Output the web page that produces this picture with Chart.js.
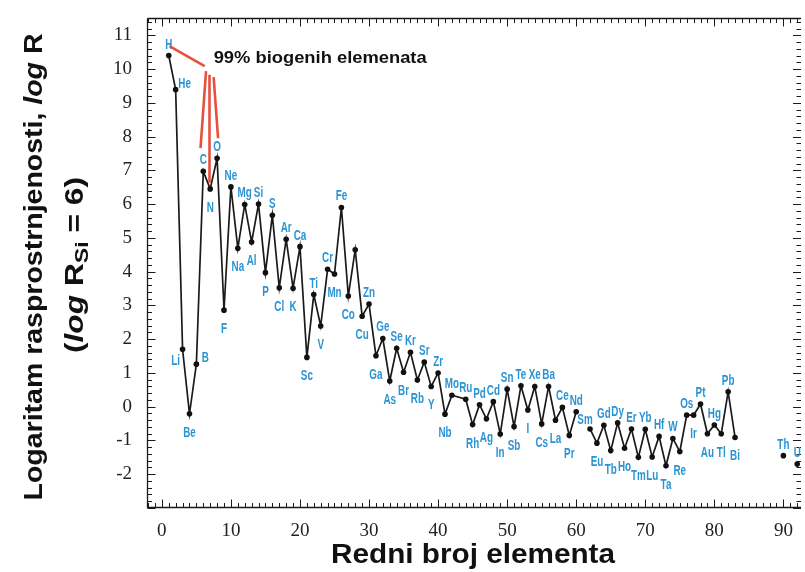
<!DOCTYPE html>
<html><head><meta charset="utf-8">
<script src="https://cdn.jsdelivr.net/npm/chart.js@4.4.1/dist/chart.umd.min.js"></script>
<style>html,body{margin:0;padding:0;background:#fff;overflow:hidden}#wrap{width:805px;height:572px;position:relative}</style>
</head><body><div id="wrap"><canvas id="c"></canvas></div>
<script>
// ---- data ----
const atomicNumbers = [1,2,3,4,5,6,7,8,9,10,11,12,13,14,15,16,17,18,19,20,21,22,23,24,25,26,27,28,29,30,31,32,33,34,35,36,37,38,39,40,41,42,
  44,45,46,47,48,49,50,51,52,53,54,55,56,57,58,59,60,61,62,63,64,65,66,67,68,69,70,71,72,73,74,75,76,77,78,79,80,81,82,83,
  84,90,91,92];
const symbols = ['H','He','Li','Be','B','C','N','O','F','Ne','Na','Mg','Al','Si','P','S','Cl','Ar','K','Ca','Sc','Ti','V','Cr','Mn','Fe','Co','Ni','Cu','Zn','Ga','Ge','As','Se','Br','Kr','Rb','Sr','Y','Zr','Nb','Mo',
  'Ru','Rh','Pd','Ag','Cd','In','Sn','Sb','Te','I','Xe','Cs','Ba','La','Ce','Pr','Nd','Pm','Sm','Eu','Gd','Tb','Dy','Ho','Er','Tm','Yb','Lu','Hf','Ta','W','Re','Os','Ir','Pt','Au','Hg','Tl','Pb','Bi',
  'Po','Th','Pa','U'];
const logAbundance = [10.40,9.39,1.70,-0.21,1.26,6.97,6.45,7.36,2.86,6.51,4.69,5.99,4.88,6.00,3.97,5.67,3.52,4.96,3.51,4.74,1.46,3.32,2.39,4.07,3.93,5.90,3.28,4.65,2.68,3.04,1.51,2.02,0.76,1.73,1.02,1.61,0.79,1.32,0.60,1.00,-0.22,0.34,
  0.22,-0.53,0.06,-0.36,0.15,-0.81,0.52,-0.59,0.62,-0.10,0.60,-0.51,0.60,-0.40,-0.02,-0.85,-0.15,null,-0.66,-1.08,-0.55,-1.30,-0.48,-1.23,-0.66,-1.50,-0.67,-1.49,-0.88,-1.75,-0.94,-1.33,-0.25,-0.25,0.08,-0.80,-0.54,-0.80,0.44,-0.91,
  null,-1.45,null,-1.70];
// label placement: a = above, b = below, ar = above right, bl = below left, al = above left, '' = none
const labelSide = [
  'a','ar','bl','b','ar','a','b','a','b','a',   // 1-10
  'b','a','b','a','b','a','b','a','b','a',      // 11-20
  'b','a','b','a','b','a','b','','b','a',       // 21-30
  'b','a','b','a','b','a','b','a','b','a',      // 31-40
  'b','a',                                      // 41-42
  'a','b','a','b','a','b','a','b','a','b',      // 44-53
  'a','b','a','b','a','b','a','','al','b',      // 54-63
  'a','b','a','b','a','b','a','b','a','b',      // 64-73
  'a','b','a','b','a','b','a','b','a','b',      // 74-83
  '','a','','a'];                               // 84,90,91,92
const xTickValues = [0,10,20,30,40,50,60,70,80,90];
const yTickValues = [-2,-1,0,1,2,3,4,5,6,7,8,9,10,11];
const annotationText = '99% biogenih elemenata';

// ---- styles ----
const sideOffset = {a:[0,-11], b:[0,19], ar:[9,-6], bl:[-7,12], al:[-5,-9]};
const SANS = '"Liberation Sans", Arial, Helvetica, sans-serif';
const LABEL_FONT = 'bold 14.5px "Liberation Sans", Arial, sans-serif';
const BLUE = '#2a94d3';
const RED = '#e4513f';

const points = atomicNumbers.map((z,i)=>({x:z, y:logAbundance[i]}));

const framePlugin = {
  id:'frame',
  beforeDatasetsDraw(chart){
    const {ctx, chartArea:a, scales:{x,y}} = chart;
    ctx.save();
    ctx.strokeStyle = '#1a1a1a';
    ctx.lineWidth = 1.3;
    const L = Math.round(a.left)+0.5, B = Math.round(a.bottom)-0.5, T = Math.round(a.top)+0.5, R = a.right;
    ctx.beginPath();
    ctx.moveTo(L,T); ctx.lineTo(L,B); ctx.lineTo(R,B);
    ctx.moveTo(L,T); ctx.lineTo(R,T);
    ctx.stroke();
    ctx.lineWidth = 1;
    ctx.beginPath();
    for(let v=Math.ceil(x.min); v<=x.max; v++){
      const px = Math.round(x.getPixelForValue(v))+0.5;
      const len = v%10===0 ? 8 : 4.5;
      ctx.moveTo(px,B); ctx.lineTo(px,B-len);
      ctx.moveTo(px,T); ctx.lineTo(px,T+len);
    }
    for(let k=Math.ceil(y.min*5); k<=Math.floor(y.max*5); k++){
      const py = Math.round(y.getPixelForValue(k/5))+0.5;
      const len = k%5===0 ? 8 : 4.5;
      ctx.moveTo(L,py); ctx.lineTo(L+len,py);
      ctx.moveTo(R,py); ctx.lineTo(R-len,py);
    }
    ctx.stroke();
    ctx.restore();
  }
};

// draw a run of mixed-style text centred at (cx,cy), optionally fitted to a length
function drawRuns(ctx, runs, cx, cy, angle, fitLen){
  ctx.save();
  ctx.translate(cx, cy);
  ctx.rotate(angle);
  let total = 0;
  runs.forEach(r=>{ctx.font=r.font; r.w=ctx.measureText(r.t).width; total+=r.w;});
  if(fitLen) ctx.scale(fitLen/total, 1);
  let xx = -total/2;
  ctx.textBaseline='middle'; ctx.textAlign='left';
  runs.forEach(r=>{ctx.font=r.font; ctx.fillText(r.t, xx, r.dy||0); xx+=r.w;});
  ctx.restore();
}

const labelPlugin = {
  id:'labels',
  afterDatasetsDraw(chart){
    const {ctx, scales:{x,y}} = chart;
    const meta = chart.getDatasetMeta(0);
    ctx.save();
    ctx.font = LABEL_FONT;
    ctx.fillStyle = BLUE;
    ctx.textAlign = 'center';
    ctx.textBaseline = 'middle';
    meta.data.forEach((el,i)=>{
      const side = labelSide[i];
      if(!side || logAbundance[i]===null) return;
      const o = sideOffset[side];
      ctx.save();
      ctx.translate(el.x+o[0], el.y+o[1]);
      ctx.scale(0.68, 1);
      ctx.fillText(symbols[i], 0, 0);
      ctx.restore();
    });
    // annotation: lines from the H label to the biogenic elements C, N, O
    const P = (vx,vy)=>[x.getPixelForValue(vx), y.getPixelForValue(vy)];
    const segs = [[[1.1,10.68],[6.2,10.09]],[[6.4,9.94],[5.6,7.66]],[[6.9,9.83],[6.9,6.63]],[[7.5,9.76],[8.14,7.95]]];
    ctx.strokeStyle = RED; ctx.lineWidth = 2.6; ctx.lineCap='butt';
    ctx.beginPath();
    segs.forEach(s=>{const p0=P(...s[0]), p1=P(...s[1]); ctx.moveTo(p0[0],p0[1]); ctx.lineTo(p1[0],p1[1]);});
    ctx.stroke();
    ctx.restore();
    const tp = P(7.5,10.3);
    ctx.save();
    ctx.fillStyle = '#111';
    const tfont = 'bold 16px '+SANS;
    drawRuns(ctx, [{t:annotationText,font:tfont}], tp[0]+106.5, tp[1], 0, 213);

    // axis titles
    const F = 'bold 26px '+SANS, FI = 'italic bold 26px '+SANS, FS = 'bold 19px '+SANS;
    drawRuns(ctx, [{t:'Logaritam rasprostrnjenosti, ',font:F},{t:'log',font:FI},{t:' R',font:F}], 35, 267, -Math.PI/2, 467);
    drawRuns(ctx, [{t:'(',font:F},{t:'log',font:FI},{t:' R',font:F},{t:'Si',font:FS,dy:7},{t:' = 6)',font:F}], 76, 265, -Math.PI/2, 176);
    const FX = 'bold 27px '+SANS;
    drawRuns(ctx, [{t:'Redni broj elementa',font:FX}], 473, 556, 0, 284);
    ctx.restore();
  }
};

new Chart(document.getElementById('c'), {
  type:'line',
  data:{datasets:[{
    data: points,
    borderColor:'#1a1a1a', borderWidth:1.7,
    pointRadius:2.8, pointBackgroundColor:'#111', pointBorderWidth:0,
    spanGaps:false, tension:0
  }]},
  options:{
    responsive:true, maintainAspectRatio:false, animation:false,
    layout:{padding:{top:15,right:0,bottom:0,left:0}},
    plugins:{legend:{display:false}, tooltip:{enabled:false}},
    scales:{
      x:{type:'linear', min:-2.15, max:92.55,
         grid:{display:false}, border:{display:false},
         afterBuildTicks(s){ s.ticks = xTickValues.map(v=>({value:v})); },
         afterFit(s){ s.height = 64; },
         ticks:{font:{family:'"Liberation Serif", "Times New Roman", serif', size:19}, color:'#222', padding:4, maxRotation:0}},
      y:{type:'linear', min:-3, max:11.5,
         grid:{display:false}, border:{display:false},
         afterBuildTicks(s){ s.ticks = yTickValues.map(v=>({value:v})); },
         afterFit(s){ s.width = 147; },
         ticks:{font:{family:'"Liberation Serif", "Times New Roman", serif', size:19}, color:'#222', padding:7}}
    }
  },
  plugins:[framePlugin, labelPlugin]
});
</script>
</body></html>
